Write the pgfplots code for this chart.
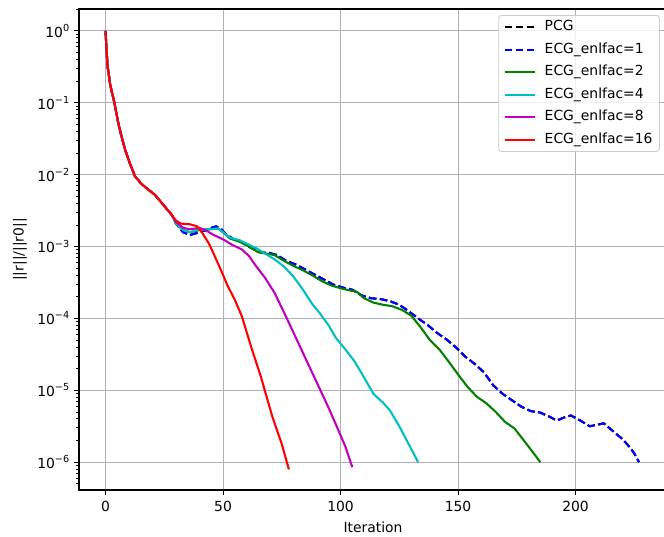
\documentclass[border=0pt]{standalone}
\usepackage{pgfplots}
\pgfplotsset{compat=1.18}
\usepackage{fontspec}
\setmainfont{DejaVu Sans}
\definecolor{mgreen}{rgb}{0,0.5,0}
\definecolor{mcyan}{rgb}{0,0.75,0.75}
\definecolor{mmag}{rgb}{0.75,0,0.75}
\definecolor{gridgray}{HTML}{B0B0B0}
\definecolor{leggray}{HTML}{CCCCCC}
\newcommand\ten[1]{10\raisebox{0.42em}{\fontsize{9.7}{10}\selectfont #1}}
\begin{document}
\fontsize{13.9}{16}\selectfont
\begin{tikzpicture}
\begin{semilogyaxis}[
  scale only axis, width=588pt, height=481pt,
  xmin=-11.3, xmax=238.9, ymin=4.1e-7, ymax=2.02,
  xtick={0,50,100,150,200},
  ytick={1e-6,1e-5,1e-4,1e-3,1e-2,1e-1,1},
  yticklabels={\ten{−6},\ten{−5},\ten{−4},\ten{−3},\ten{−2},\ten{−1},\ten{0}},
  minor ytick={5e-7,6e-7,7e-7,8e-7,9e-7,
    2e-6,3e-6,4e-6,5e-6,6e-6,7e-6,8e-6,9e-6,
    2e-5,3e-5,4e-5,5e-5,6e-5,7e-5,8e-5,9e-5,
    2e-4,3e-4,4e-4,5e-4,6e-4,7e-4,8e-4,9e-4,
    2e-3,3e-3,4e-3,5e-3,6e-3,7e-3,8e-3,9e-3,
    2e-2,3e-2,4e-2,5e-2,6e-2,7e-2,8e-2,9e-2,
    0.2,0.3,0.4,0.5,0.6,0.7,0.8,0.9,2},
  /pgf/number format/assume math mode=true,
  tick label style={font=\fontsize{13.9}{16}\selectfont},
  label style={font=\fontsize{13.9}{16}\selectfont},
  grid=major,
  major grid style={draw=gridgray, line width=1.1pt},
  tick align=outside, tick pos=left,
  major tick length=4.9pt, minor tick length=2.8pt,
  every tick/.style={black, line width=1.1pt},
  minor tick style={black, line width=0.83pt},
  axis line style={line width=1.1pt},
  xticklabel style={yshift=-1pt},
  xlabel={Iteration}, ylabel={||r||/||r0||},
  xlabel style={at={(axis description cs:0.5,-0.077)}, anchor=center},
  ylabel style={at={(axis description cs:-0.1003,0.5)}, anchor=center, rotate=0},
  legend cell align=left,
  legend image code/.code={\draw[#1] (0pt,0pt) -- (30pt,0pt);},
  legend style={at={(rel axis cs:0.988,0.9875)}, anchor=north east,
    draw=leggray, line width=0.8pt, rounded corners=3pt, fill=white, fill opacity=0.8, text opacity=1,
    font=\fontsize{13.9}{16}\selectfont,
    nodes={text height=10.5pt, text depth=3pt, inner sep=2pt},
    /tikz/every odd column/.append style={column sep=7pt},
    row sep=5pt, inner xsep=5pt, inner ysep=3pt},
  every axis plot/.append style={line width=2.08pt, line join=round},
]
% PCG (identical to ECG_enlfac=1)
\addplot[black, dash pattern=on 7.7pt off 3.3pt] coordinates {
(0,1) (0.4,0.55) (0.9,0.316) (1.9,0.186) (2.7,0.140) (3.5,0.110) (4.4,0.078) (5.4,0.0525) (6.8,0.034) (8.3,0.0224) (10.3,0.0145) (12.5,9.55e-3) (15,7.6e-3) (17.5,6.46e-3) (21,5.25e-3) (24.6,3.80e-3) (28.2,2.75e-3)
(30,2.09e-3) (33,1.58e-3) (36,1.45e-3) (39,1.55e-3) (42,1.66e-3) (45,1.82e-3) (47,1.91e-3) (49,1.78e-3) (51,1.51e-3) (54,1.29e-3) (58,1.15e-3) (62,9.55e-4) (66,8.32e-4) (70,8.13e-4) (73,7.59e-4) (77,6.31e-4) (81,5.62e-4) (85,4.79e-4) (89,4.07e-4) (93,3.47e-4) (97,2.95e-4) (101,2.69e-4) (105,2.51e-4) (109,2.09e-4) (113,1.91e-4) (117,1.86e-4) (121,1.74e-4) (125,1.55e-4) (129,1.26e-4) (133,1.00e-4) (137,8.13e-5) (141,6.31e-5) (145,5.13e-5) (149,3.98e-5) (153,2.95e-5) (157,2.34e-5) (161,1.78e-5) (165,1.17e-5) (169,8.91e-6) (173,7.24e-6) (177,5.89e-6) (181,5.13e-6) (185,4.90e-6) (189,4.27e-6) (192,3.80e-6) (195,4.17e-6) (198,4.47e-6) (202,3.80e-6) (206,3.16e-6) (209,3.31e-6) (212,3.47e-6) (216,2.69e-6) (220,2.09e-6) (223,1.62e-6) (225,1.32e-6) (227,1.00e-6)
};
\addlegendentry{PCG}
\addplot[blue, dash pattern=on 7.7pt off 3.3pt] coordinates {
(0,1) (0.4,0.55) (0.9,0.316) (1.9,0.186) (2.7,0.140) (3.5,0.110) (4.4,0.078) (5.4,0.0525) (6.8,0.034) (8.3,0.0224) (10.3,0.0145) (12.5,9.55e-3) (15,7.6e-3) (17.5,6.46e-3) (21,5.25e-3) (24.6,3.80e-3) (28.2,2.75e-3)
(30,2.09e-3) (33,1.58e-3) (36,1.45e-3) (39,1.55e-3) (42,1.66e-3) (45,1.82e-3) (47,1.91e-3) (49,1.78e-3) (51,1.51e-3) (54,1.29e-3) (58,1.15e-3) (62,9.55e-4) (66,8.32e-4) (70,8.13e-4) (73,7.59e-4) (77,6.31e-4) (81,5.62e-4) (85,4.79e-4) (89,4.07e-4) (93,3.47e-4) (97,2.95e-4) (101,2.69e-4) (105,2.51e-4) (109,2.09e-4) (113,1.91e-4) (117,1.86e-4) (121,1.74e-4) (125,1.55e-4) (129,1.26e-4) (133,1.00e-4) (137,8.13e-5) (141,6.31e-5) (145,5.13e-5) (149,3.98e-5) (153,2.95e-5) (157,2.34e-5) (161,1.78e-5) (165,1.17e-5) (169,8.91e-6) (173,7.24e-6) (177,5.89e-6) (181,5.13e-6) (185,4.90e-6) (189,4.27e-6) (192,3.80e-6) (195,4.17e-6) (198,4.47e-6) (202,3.80e-6) (206,3.16e-6) (209,3.31e-6) (212,3.47e-6) (216,2.69e-6) (220,2.09e-6) (223,1.62e-6) (225,1.32e-6) (227,1.00e-6)
};
\addlegendentry{ECG\_enlfac=1}
\addplot[mgreen] coordinates {
(0,1) (0.4,0.55) (0.9,0.316) (1.9,0.186) (2.7,0.140) (3.5,0.110) (4.4,0.078) (5.4,0.0525) (6.8,0.034) (8.3,0.0224) (10.3,0.0145) (12.5,9.55e-3) (15,7.6e-3) (17.5,6.46e-3) (21,5.25e-3) (24.6,3.80e-3) (28.2,2.75e-3)
(30,2.09e-3) (33,1.70e-3) (36,1.58e-3) (40,1.70e-3) (44,1.74e-3) (48,1.78e-3) (50,1.58e-3) (53,1.29e-3) (57,1.17e-3) (61,1.00e-3) (65,8.32e-4) (69,7.94e-4) (72,7.59e-4) (76,6.31e-4) (80,5.37e-4) (84,4.68e-4) (88,3.98e-4) (92,3.31e-4) (96,2.88e-4) (100,2.63e-4) (104,2.45e-4) (107,2.34e-4) (110,1.91e-4) (114,1.66e-4) (118,1.55e-4) (122,1.48e-4) (126,1.32e-4) (130,1.10e-4) (134,7.59e-5) (138,5.01e-5) (142,3.72e-5) (146,2.51e-5) (150,1.66e-5) (154,1.12e-5) (158,8.13e-6) (162,6.61e-6) (166,5.01e-6) (170,3.63e-6) (174,2.95e-6) (178,2.00e-6) (182,1.35e-6) (185,1.00e-6)
};
\addlegendentry{ECG\_enlfac=2}
\addplot[mcyan] coordinates {
(0,1) (0.4,0.55) (0.9,0.316) (1.9,0.186) (2.7,0.140) (3.5,0.110) (4.4,0.078) (5.4,0.0525) (6.8,0.034) (8.3,0.0224) (10.3,0.0145) (12.5,9.55e-3) (15,7.6e-3) (17.5,6.46e-3) (21,5.25e-3) (24.6,3.80e-3) (28.2,2.75e-3)
(30,2.09e-3) (33,1.70e-3) (36,1.58e-3) (40,1.74e-3) (44,1.74e-3) (48,1.78e-3) (50,1.58e-3) (53,1.32e-3) (57,1.23e-3) (60,1.10e-3) (64,9.55e-4) (68,7.94e-4) (72,6.61e-4) (76,5.25e-4) (80,3.80e-4) (84,2.51e-4) (88,1.58e-4) (91,1.20e-4) (95,7.94e-5) (98,5.37e-5) (102,3.72e-5) (106,2.51e-5) (110,1.51e-5) (114,8.91e-6) (118,6.76e-6) (121,5.25e-6) (125,3.16e-6) (129,1.78e-6) (133,1.00e-6)
};
\addlegendentry{ECG\_enlfac=4}
\addplot[mmag] coordinates {
(0,1) (0.4,0.55) (0.9,0.316) (1.9,0.186) (2.7,0.140) (3.5,0.110) (4.4,0.078) (5.4,0.0525) (6.8,0.034) (8.3,0.0224) (10.3,0.0145) (12.5,9.55e-3) (15,7.6e-3) (17.5,6.46e-3) (21,5.25e-3) (24.6,3.80e-3) (28.2,2.75e-3)
(30,2.19e-3) (33,1.82e-3) (36,1.74e-3) (40,1.82e-3) (43,1.66e-3) (46,1.45e-3) (50,1.26e-3) (54,1.05e-3) (58,9.12e-4) (61,7.41e-4) (64,5.37e-4) (68,3.63e-4) (72,2.24e-4) (76,1.20e-4) (80,6.31e-5) (85,2.82e-5) (90,1.26e-5) (95,5.62e-6) (99,2.82e-6) (102,1.66e-6) (105,8.51e-7)
};
\addlegendentry{ECG\_enlfac=8}
\addplot[red] coordinates {
(0,1) (0.4,0.55) (0.9,0.316) (1.9,0.186) (2.7,0.140) (3.5,0.110) (4.4,0.078) (5.4,0.0525) (6.8,0.034) (8.3,0.0224) (10.3,0.0145) (12.5,9.55e-3) (15,7.6e-3) (17.5,6.46e-3) (21,5.25e-3) (24.6,3.80e-3) (28.2,2.75e-3)
(30,2.29e-3) (32,2.09e-3) (36,2.04e-3) (39,1.91e-3) (41,1.58e-3) (44,1.10e-3) (46,7.94e-4) (49,4.79e-4) (52,2.82e-4) (55,1.82e-4) (58,1.07e-4) (62,3.98e-5) (66,1.58e-5) (71,4.27e-6) (75,1.78e-6) (78,7.94e-7)
};
\addlegendentry{ECG\_enlfac=16}
\end{semilogyaxis}
\pgfresetboundingbox
\path[use as bounding box] (current axis.south west) ++(-79pt,-46pt) rectangle ([shift={(-3pt,9pt)}]current axis.north east);
\end{tikzpicture}
\end{document}
